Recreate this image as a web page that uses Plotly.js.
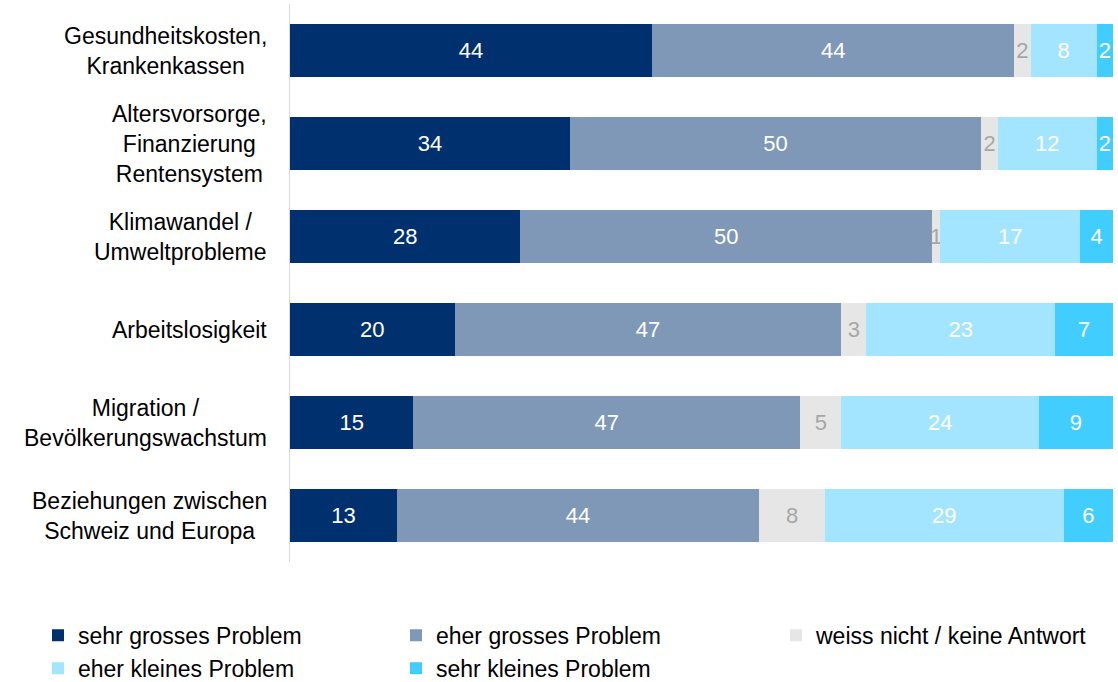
<!DOCTYPE html>
<html>
<head>
<meta charset="utf-8">
<script src="https://cdn.plot.ly/plotly-3.0.1.min.js"></script>
<style>html,body{margin:0;padding:0;background:#fff;}#chart{width:1118px;height:682px;}</style>
</head>
<body>
<div id="chart"></div>
<script>
const categories = [
  "Gesundheitskosten,<br>Krankenkassen",
  "Altersvorsorge,<br>Finanzierung<br>Rentensystem",
  "Klimawandel /<br>Umweltprobleme",
  "Arbeitslosigkeit",
  "Migration /<br>Bevölkerungswachstum",
  "Beziehungen zwischen<br>Schweiz und Europa"
];
const seriesNames = ["sehr grosses Problem", "eher grosses Problem", "weiss nicht / keine Antwort", "eher kleines Problem", "sehr kleines Problem"];
const sehrGross = [44, 34, 28, 20, 15, 13];
const eherGross = [44, 50, 50, 47, 47, 44];
const weissNicht = [2, 2, 1, 3, 5, 8];
const eherKlein = [8, 12, 17, 23, 24, 29];
const sehrKlein = [2, 2, 4, 7, 9, 6];

const values = [sehrGross, eherGross, weissNicht, eherKlein, sehrKlein];
const colors = ["#00316E", "#7F98B8", "#E6E6E6", "#A3E5FE", "#42CDFF"];
const textColors = ["#FFFFFF", "#FFFFFF", "#A6A6A6", "#FFFFFF", "#FFFFFF"];
const legendIds = ["legend", "legend2", "legend3", "legend", "legend2"];
const FONT = "Liberation Sans, Arial, sans-serif";

const traces = values.map((v, i) => ({
  type: "bar",
  orientation: "h",
  name: seriesNames[i],
  legend: legendIds[i],
  y: categories,
  x: v,
  text: v.map(String),
  textposition: "inside",
  insidetextanchor: "middle",
  constraintext: "none",
  textfont: {family: FONT, size: 22, color: textColors[i]},
  marker: {color: colors[i], line: {width: 0}},
  hoverinfo: "skip"
}));

const annotations = categories.map(c => ({
  xref: "paper", yref: "y",
  x: -0.026, y: c,
  xanchor: "right", yanchor: "middle",
  align: "center",
  text: c,
  showarrow: false,
  font: {family: FONT, size: 23, color: "#000000"}
}));

function legendAt(xpx) {
  return {
    orientation: "v",
    xref: "container", yref: "container",
    x: xpx / 1118, y: 0.1,
    xanchor: "left", yanchor: "top",
    traceorder: "normal",
    itemwidth: 30,
    font: {family: FONT, size: 23, color: "#000000"},
    tracegroupgap: 0,
    bgcolor: "rgba(0,0,0,0)"
  };
}

const layout = {
  width: 1118, height: 682,
  margin: {l: 290, r: 5, t: 4, b: 120, autoexpand: false},
  barmode: "stack",
  bargap: 0.44,
  paper_bgcolor: "#FFFFFF",
  plot_bgcolor: "#FFFFFF",
  font: {family: FONT, size: 22, color: "#000000"},
  xaxis: {range: [0, 100], showgrid: false, zeroline: false, showticklabels: false, showline: false, ticks: ""},
  yaxis: {autorange: "reversed", showgrid: false, zeroline: false, showticklabels: false, showline: true, linecolor: "#D9D9D9", linewidth: 1, ticks: ""},
  uniformtext: {mode: "show", minsize: 22},
  showlegend: true,
  legend: legendAt(38),
  legend2: legendAt(396),
  legend3: legendAt(776),
  annotations: annotations
};

Plotly.newPlot("chart", traces, layout, {displayModeBar: false, staticPlot: true});
</script>
</body>
</html>
